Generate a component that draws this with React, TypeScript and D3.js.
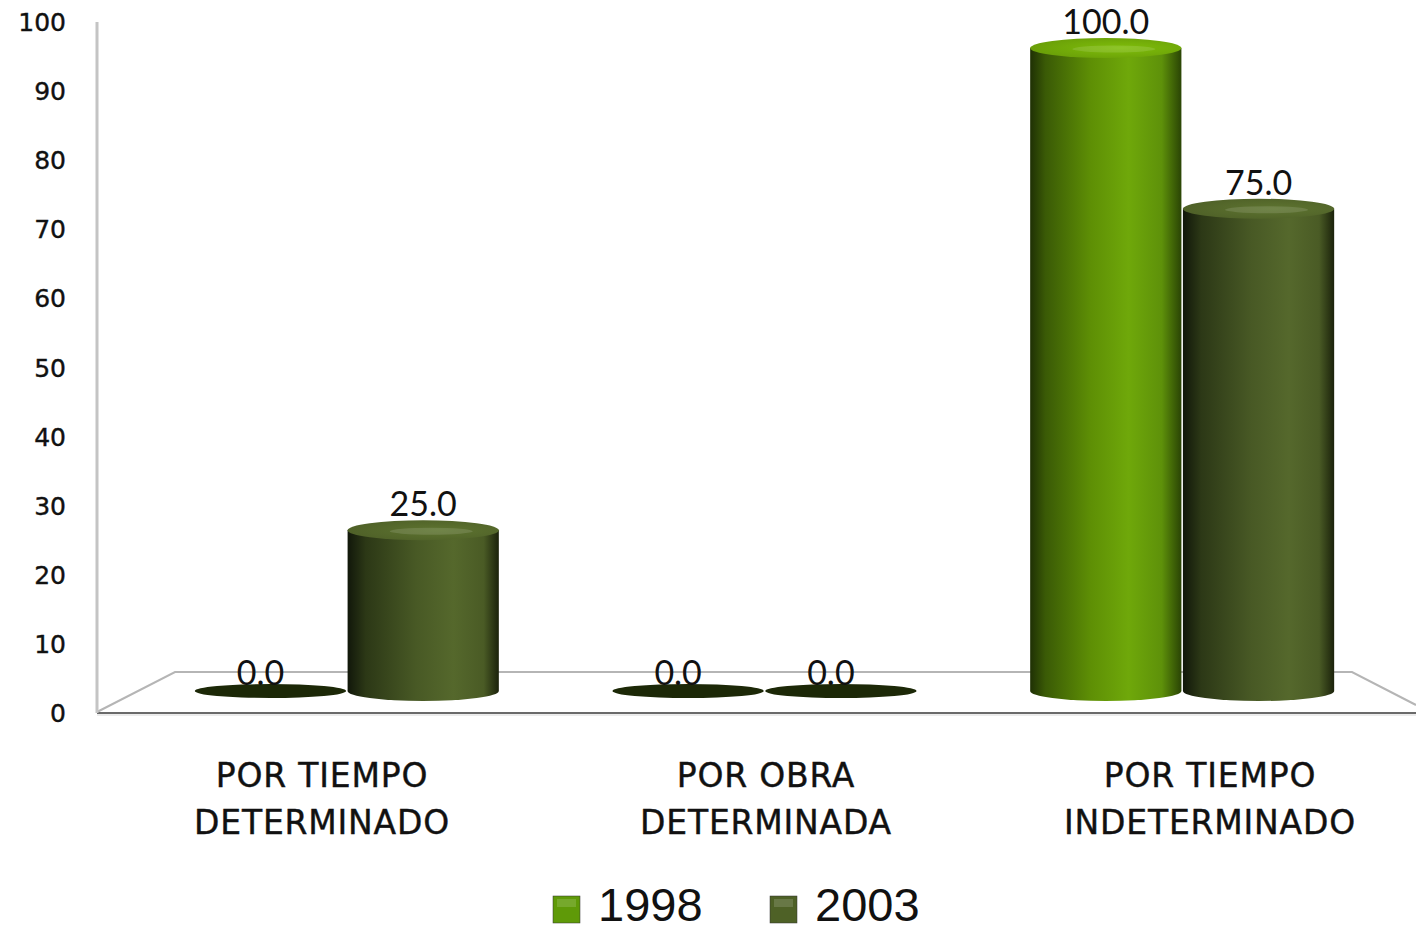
import React from "react";
import * as d3 from "d3";

const categories = ["POR TIEMPO|DETERMINADO", "POR OBRA|DETERMINADA", "POR TIEMPO|INDETERMINADO"];
const seriesNames = ["1998", "2003"];
const values1998 = [0, 0, 100];
const values2003 = [25, 0, 75];
const yTicks = [0, 10, 20, 30, 40, 50, 60, 70, 80, 90, 100];

const W = 1416, H = 932;

const palette: Record<string, { stops: [number, string][]; top: string; flat: string; legend: string }> = {
  "1998": {
    stops: [[0, "#1f3004"], [0.1, "#3a5a06"], [0.4, "#5e8f05"], [0.65, "#6fa80a"], [0.87, "#5e910a"], [1, "#2a4405"]],
    top: "#6a9f08",
    flat: "#1c2807",
    legend: "#5f9a08",
  },
  "2003": {
    stops: [[0, "#11170a"], [0.12, "#2c3816"], [0.45, "#485925"], [0.7, "#55682c"], [0.9, "#4a5b25"], [1, "#1b220b"]],
    top: "#4f6128",
    flat: "#1c2807",
    legend: "#4e6126",
  },
};

export default function App() {
  const yAxis = d3.scaleLinear().domain([0, 100]).range([713, 22]);
  const yBar = d3.scaleLinear().domain([0, 100]).range([691, 48]);

  const x0 = d3.scaleBand().domain(categories).range([138, 1391]);
  const x1 = d3.scaleBand().domain(seriesNames).range([0, 304]).paddingInner(0.01);
  const xLabel = d3.scaleBand().domain(categories).range([100, 1432]);

  const rows = categories.map((c, i) => ({
    cat: c,
    vals: [
      { s: "1998", v: values1998[i] },
      { s: "2003", v: values2003[i] },
    ],
  }));

  const ry = 10;

  return (
    <svg width={W} height={H} style={{ position: "absolute", left: 0, top: 0, background: "#fff" }}>
      <defs>
        {seriesNames.map((s) => (
          <linearGradient key={s} id={"g" + s} x1="0" x2="1" y1="0" y2="0">
            {palette[s].stops.map(([o, c], k) => (
              <stop key={k} offset={o} stopColor={c} />
            ))}
          </linearGradient>
        ))}
        {seriesNames.map((s) => (
          <radialGradient key={"t" + s} id={"t" + s} cx="0.6" cy="0.5" r="0.6">
            <stop offset="0" stopColor={d3.color(palette[s].top)!.brighter(0.5).formatHex()} />
            <stop offset="1" stopColor={palette[s].top} />
          </radialGradient>
        ))}
      </defs>

      {/* floor */}
      <g fill="none">
        <polyline points="97,712 175,672 1352,672 1416,705" stroke="#b5b5b5" strokeWidth={2} />
        <line x1={97} x2={W} y1={713} y2={713} stroke="#6a6a6a" strokeWidth={2} />
        <line x1={97} x2={W} y1={715} y2={715} stroke="#d8d8d8" strokeWidth={1} />
        <line x1={97} x2={97} y1={22} y2={713} stroke="#c4c4c4" strokeWidth={3} />
      </g>

      {/* y ticks */}
      <g fontFamily="DejaVu Sans" fontSize={25} fill="#111" textAnchor="end" stroke="#111" strokeWidth={0.4}>
        {yTicks.map((t) => (
          <text key={t} x={66} y={yAxis(t)} dy="0.36em">
            {t}
          </text>
        ))}
      </g>

      {/* bars */}
      {rows.map((r) => (
        <g key={r.cat} transform={`translate(${x0(r.cat)! + (x0.bandwidth() - 304) / 2},0)`}>
          {r.vals.map((d) => {
            const bx = x1(d.s)!;
            const bw = x1.bandwidth();
            const cx = bx + bw / 2;
            const rx = bw / 2;
            const yb = yBar(0);
            const yt = yBar(d.v);
            if (d.v === 0) {
              return (
                <g key={d.s}>
                  <ellipse cx={cx} cy={yb} rx={rx} ry={7} fill={palette[d.s].flat} />
                  <text x={cx - 10} y={yb - 6} textAnchor="middle" fontFamily="Lato" fontSize={34} fill="#111">
                    {d.v.toFixed(1)}
                  </text>
                </g>
              );
            }
            const body = `M${bx},${yt} L${bx},${yb} A${rx},${ry} 0 0 0 ${bx + bw},${yb} L${bx + bw},${yt} Z`;
            return (
              <g key={d.s}>
                <path d={body} fill={`url(#g${d.s})`} />
                <ellipse cx={cx} cy={yt} rx={rx} ry={ry} fill={`url(#t${d.s})`} />
                <ellipse cx={cx + 8} cy={yt + 1} rx={rx * 0.55} ry={ry * 0.35} fill="#fff" opacity={0.12} />
                <text x={cx} y={yt - 14} textAnchor="middle" fontFamily="Lato" fontSize={34} fill="#111">
                  {d.v.toFixed(1)}
                </text>
              </g>
            );
          })}
        </g>
      ))}

      {/* category labels */}
      <g fontFamily="DejaVu Sans" fontSize={33} fill="#111" textAnchor="middle" stroke="#111" strokeWidth={0.4}>
        {categories.map((c) => {
          const [a, b] = c.split("|");
          const cx = xLabel(c)! + xLabel.bandwidth() / 2;
          return (
            <text key={c} x={cx} y={787} letterSpacing={0.8}>
              <tspan x={cx}>{a}</tspan>
              <tspan x={cx} dy={47}>{b}</tspan>
            </text>
          );
        })}
      </g>

      {/* legend */}
      <g fontFamily="Liberation Sans, Arial" fontSize={47} fill="#111">
        {seriesNames.map((s, i) => {
          const lx = 553 + i * 217;
          return (
            <g key={s}>
              <rect x={lx} y={896} width={27} height={27} fill={palette[s].legend} stroke="#333" strokeWidth={0.5} />
              <rect x={lx + 4} y={899} width={19} height={8} fill="#fff" opacity={0.15} />
              <text x={lx + 45} y={921}>{s}</text>
            </g>
          );
        })}
      </g>
    </svg>
  );
}
